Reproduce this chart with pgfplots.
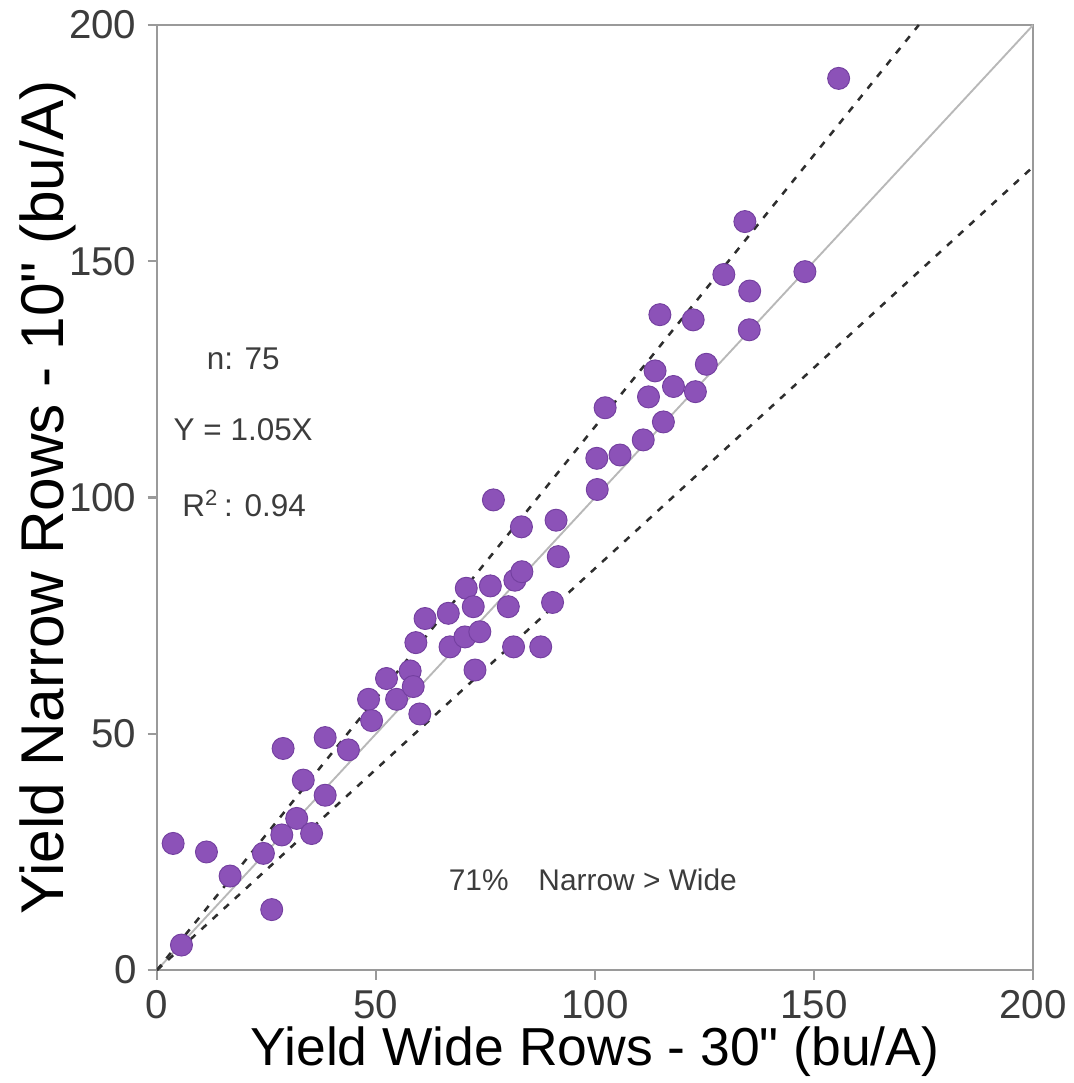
\documentclass[border=0pt]{standalone}
\usepackage{fontspec}
\setmainfont{Liberation Sans}
\newfontfamily\plainquote{Liberation Sans}[Ligatures=ResetAll]
\usepackage{pgfplots}
\pgfplotsset{compat=1.18}
\definecolor{dotfill}{HTML}{8C52B8}
\definecolor{dotedge}{HTML}{7440A0}
\definecolor{framegray}{HTML}{9A9A9A}
\definecolor{ticktext}{HTML}{3C3C3C}
\definecolor{oneline}{HTML}{B8B8B8}
\definecolor{dashline}{HTML}{2E2E2E}
\newcommand{\inch}{{\plainquote"}}

\begin{document}
\begin{tikzpicture}
\begin{axis}[
    scale only axis,
    width=278.6pt, height=300.5pt,
    xmin=0, xmax=200, ymin=0, ymax=200,
    xtick={0,50,100,150,200},
    ytick={0,50,100,150,200},
    tick align=outside,
    xtick pos=left, ytick pos=left,
    major tick length=3pt,
    axis line style={framegray, line width=0.7pt},
    tick style={framegray, line width=0.7pt},
    ticklabel style={font=\fontsize{12.8}{14}\selectfont, text=ticktext},
    /pgf/number format/assume math mode=true,
    xlabel={Yield Wide Rows - 30\inch{} (bu/A)},
    ylabel={Yield Narrow Rows - 10\inch{} (bu/A)},
    xlabel style={font=\fontsize{17}{20}\selectfont, at={(axis description cs:0.5,0)}, anchor=center, yshift=-26pt},
    ylabel style={font=\fontsize{19.2}{20}\selectfont, at={(axis description cs:0,0.5)}, anchor=center, yshift=34.7pt},
]
% observations (wide vs narrow)
\addplot[only marks, mark=*, mark size=3.5pt,
    mark options={fill=dotfill, draw=dotedge, line width=0.3pt}] coordinates {
(3.7,26.8) (11.3,25.0) (16.7,19.9) (26.2,12.8) (5.6,5.3) (24.3,24.7)
(28.5,28.6) (31.9,32.1) (33.4,40.2) (35.3,28.9) (38.4,37.0) (28.8,46.9)
(38.4,49.2) (43.7,46.6) (48.3,57.3) (49.0,52.8) (52.4,61.7) (54.7,57.3)
(57.8,63.3) (58.5,60.0) (60.0,54.2) (59.1,69.3) (61.2,74.4) (66.5,75.5)
(66.9,68.4) (70.3,70.5) (73.7,71.6) (70.6,80.8) (72.2,76.9) (72.6,63.5)
(76.1,81.3) (80.2,76.9) (81.7,82.5) (83.3,84.3) (81.4,68.4) (87.6,68.4)
(90.3,77.8) (91.6,87.5) (91.1,95.2) (83.2,93.8) (76.8,99.5) (100.5,101.7)
(100.4,108.3) (105.7,109.0) (102.3,119.0) (111.0,112.2) (112.2,121.3) (113.7,126.8)
(115.6,116.0) (117.9,123.5) (122.9,122.4) (125.4,128.2) (114.8,138.7) (122.4,137.6)
(129.4,147.2) (134.2,158.4) (135.2,135.5) (135.3,143.7) (147.9,147.8) (155.6,188.7)
};
% 1:1 line
\addplot[oneline, line width=0.6pt] coordinates {(0,0) (200,200)};
% +/- 15% lines
\addplot[dashline, line width=0.8pt, dash pattern=on 2.2pt off 2.6pt] coordinates {(0,0) (173.9,200)};
\addplot[dashline, line width=0.8pt, dash pattern=on 2.2pt off 2.6pt] coordinates {(0,0) (200,170)};

\node[font=\fontsize{10}{12}\selectfont, text=ticktext] at (axis cs:19.7,129.3) {n: 75};
\node[font=\fontsize{10}{12}\selectfont, text=ticktext] at (axis cs:19.7,114.3) {Y = 1.05X};
\node[font=\fontsize{10}{12}\selectfont, text=ticktext] at (axis cs:19.9,98.8) {R\textsuperscript{2}\,: 0.94};
\node[font=\fontsize{9.5}{12}\selectfont, text=ticktext] at (axis cs:99.5,19.0) {71\%\hspace{1em}Narrow > Wide};
\end{axis}
\pgfresetboundingbox
\path[use as bounding box] ([shift={(-49.9pt,-35.9pt)}]current axis.south west) rectangle ([shift={(12.7pt,7.95pt)}]current axis.north east);
\end{tikzpicture}
\end{document}
